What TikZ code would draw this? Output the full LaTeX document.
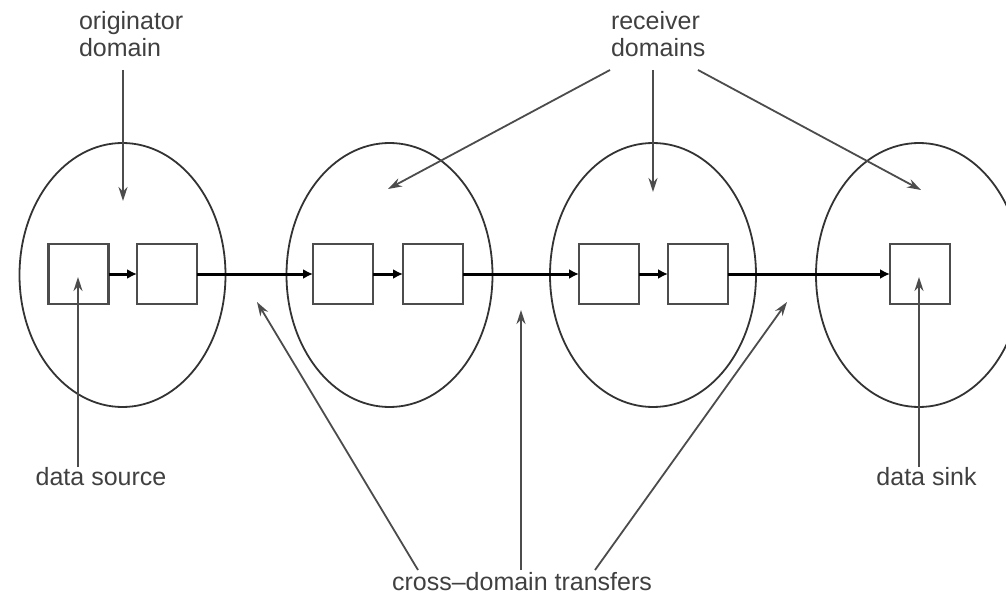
\documentclass[tikz,border=0pt]{standalone}
\usepackage{fontspec}
\setmainfont{Liberation Sans}
\usetikzlibrary{shapes.geometric,arrows.meta}
\begin{document}
\begin{tikzpicture}[x=1pt,y=-1pt,
  domainshape/.style={ellipse,draw=black!80,line width=1.8pt,minimum width=206pt,minimum height=264pt,inner sep=0pt,outer sep=0pt},
  blk/.style={draw=black!70,line width=2.4pt,minimum width=60pt,minimum height=60pt,inner sep=0pt,outer sep=0pt},
  flow/.style={line width=3pt,black,-{Latex[length=10pt,width=10pt]}},
  callout/.style={line width=1.8pt,black!70,-{Stealth[length=14pt,width=9pt]}},
  lbl/.style={font=\fontsize{25}{27}\selectfont,text=black!75,inner sep=0pt,outer sep=0pt}]
\clip (0,0) rectangle (1006,596);

% domains
\node[domainshape] (d1) at (122.5,275) {};
\node[domainshape] (d2) at (389.5,275) {};
\node[domainshape] (d3) at (653,275) {};
\node[domainshape] (d4) at (919,275) {};

% processing blocks
\node[blk] (b1) at (78.5,274) {};
\node[blk] (b2) at (167,274) {};
\node[blk] (b3) at (343,274) {};
\node[blk] (b4) at (433,274) {};
\node[blk] (b5) at (609,274) {};
\node[blk] (b6) at (698,274) {};
\node[blk] (b7) at (920,274) {};

% data path
\draw[flow] (b1.east) -- (b2.west);
\draw[flow] (b2.east) -- (b3.west);
\draw[flow] (b3.east) -- (b4.west);
\draw[flow] (b4.east) -- (b5.west);
\draw[flow] (b5.east) -- (b6.west);
\draw[flow] (b6.east) -- (b7.west);

% labels
\node[lbl,anchor=north west,align=left] (orig) at (79,11) {originator\\domain};
\node[lbl,anchor=north west,align=left] (recv) at (611,11) {receiver\\domains};
\node[lbl,anchor=base] (src) at (101,485) {data source};
\node[lbl,anchor=base] (sink) at (926.5,485) {data sink};
\node[lbl,anchor=base] (xfer) at (522,590) {cross–domain transfers};

% callout ends
\coordinate (o0) at (123,70);   \coordinate (o1) at (123,201);
\coordinate (r0) at (610,70);   \coordinate (r1) at (388,189);
\coordinate (r2) at (653,70);   \coordinate (r3) at (653,192);
\coordinate (r4) at (698,70);   \coordinate (r5) at (921,190);
\coordinate (s0) at (78,467);   \coordinate (s1) at (78,277);
\coordinate (k0) at (919,467);  \coordinate (k1) at (919,277);
\coordinate (x0) at (418,570);  \coordinate (x1) at (257,302);
\coordinate (x2) at (521,570);  \coordinate (x3) at (521,310);
\coordinate (x4) at (595,570);  \coordinate (x5) at (787,302);

% callouts
\draw[callout] (o0) -- (o1);
\draw[callout] (r0) -- (r1);
\draw[callout] (r2) -- (r3);
\draw[callout] (r4) -- (r5);
\draw[callout] (s0) -- (s1);
\draw[callout] (k0) -- (k1);
\draw[callout] (x0) -- (x1);
\draw[callout] (x2) -- (x3);
\draw[callout] (x4) -- (x5);
\end{tikzpicture}
\end{document}
